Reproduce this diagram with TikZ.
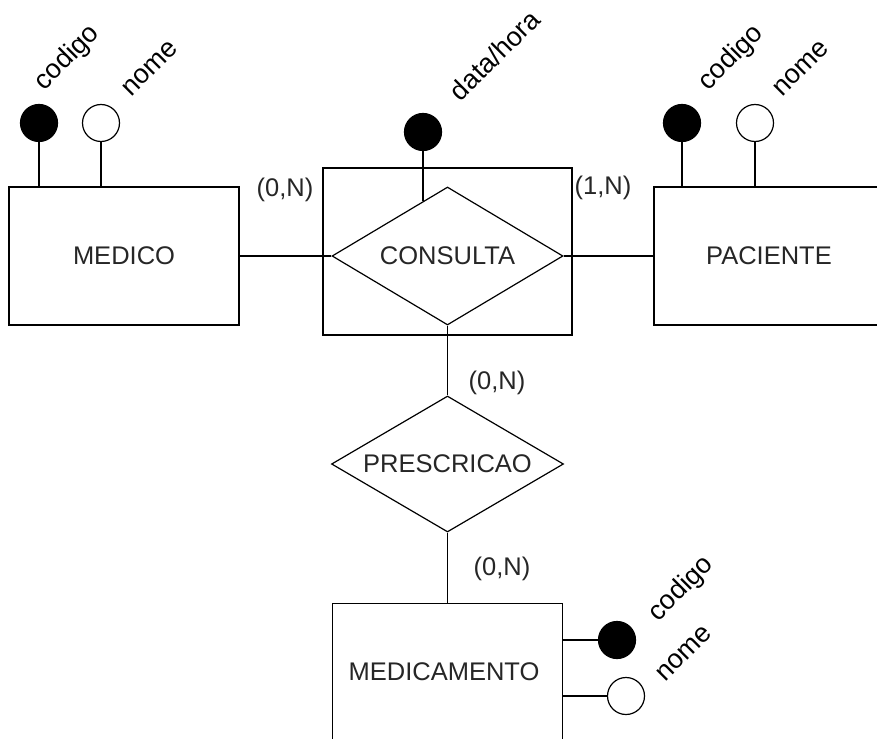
\documentclass[tikz,border=0pt]{standalone}
\usepackage{fontspec}
\setmainfont{Liberation Sans}
\usetikzlibrary{shapes.geometric,calc}
\tikzset{
  ent/.style={draw, rectangle, minimum width=230pt, minimum height=138pt, inner sep=0pt, text=black!85},
  rel/.style={draw, diamond, aspect=1.7, inner sep=0pt, text=black!85},
  key/.style={draw, circle, fill=black, minimum size=37pt, inner sep=0pt},
  attr/.style={draw, circle, fill=white, minimum size=37pt, inner sep=0pt},
  alabel/.style={rotate=45, inner sep=0pt, font=\fontsize{27}{30}\selectfont},
  card/.style={inner sep=0pt, text=black!85},
}
\begin{document}
\begin{tikzpicture}[x=1pt, y=-1pt, line width=1.2pt, font=\fontsize{25.5}{30}\selectfont]
\useasboundingbox (0,0) rectangle (877,738);
\clip (0,0) rectangle (877,738);
% entities
\node[ent] (medico) at (124,256) {MEDICO};
\node[ent] (paciente) at (769,256) {PACIENTE};
\node[ent, anchor=north] (medicamento) at (447.5,603) {};
\node[text=black!85] (medtext) at (444,672) {MEDICAMENTO};
% associative entity CONSULTA
\node[draw, rectangle, minimum width=249pt, minimum height=167pt, inner sep=0pt] (cbox) at (447.5,251.5) {};
\node[rel, minimum width=231pt, minimum height=138pt] (consulta) at (447.5,256) {CONSULTA};
\node[rel, minimum width=232pt, minimum height=136pt] (prescricao) at (447.5,464) {PRESCRICAO};
% attribute circles
\node[key] (mcod) at (39,123) {};
\node[attr] (mnom) at (101,123) {};
\node[key] (dh) at (423,132) {};
\node[key] (pcod) at (682,123) {};
\node[attr] (pnom) at (755,123) {};
\node[key] (mdcod) at (617,640) {};
\node[attr] (mdnom) at (626,696) {};
% attribute labels
\node[alabel] (lmcod) at (67.5,58) {codigo};
\node[alabel] (lmnom) at (150,68.5) {nome};
\node[alabel] (ldh) at (494.5,55) {data/hora};
\node[alabel] (lpcod) at (731.5,58) {codigo};
\node[alabel] (lpnom) at (801,68.5) {nome};
\node[alabel] (lmdcod) at (681.5,589) {codigo};
\node[alabel] (lmdnom) at (684,653.5) {nome};
% cardinalities
\node[card] (c1) at (285,190) {(0,N)};
\node[card] (c2) at (603,188) {(1,N)};
\node[card] (c3) at (497,383) {(0,N)};
\node[card] (c4) at (502,569) {(0,N)};
% connectors
\draw (medico.east) -- (consulta.west);
\draw (consulta.east) -- (paciente.west);
\draw (consulta.south) -- (prescricao.north);
\draw (prescricao.south) -- (medicamento.north);
\draw (mcod.south) -- (mcod |- medico.north);
\draw (mnom.south) -- (mnom |- medico.north);
\draw (pcod.south) -- (pcod |- paciente.north);
\draw (pnom.south) -- (pnom |- paciente.north);
\coordinate (dhend) at ($(consulta.west)!0.79!(consulta.north)$);
\draw (dh.south) -- (dh |- dhend);
\draw (medicamento.east |- mdcod) -- (mdcod.west);
\draw (medicamento.east |- mdnom) -- (mdnom.west);
\end{tikzpicture}
\end{document}
